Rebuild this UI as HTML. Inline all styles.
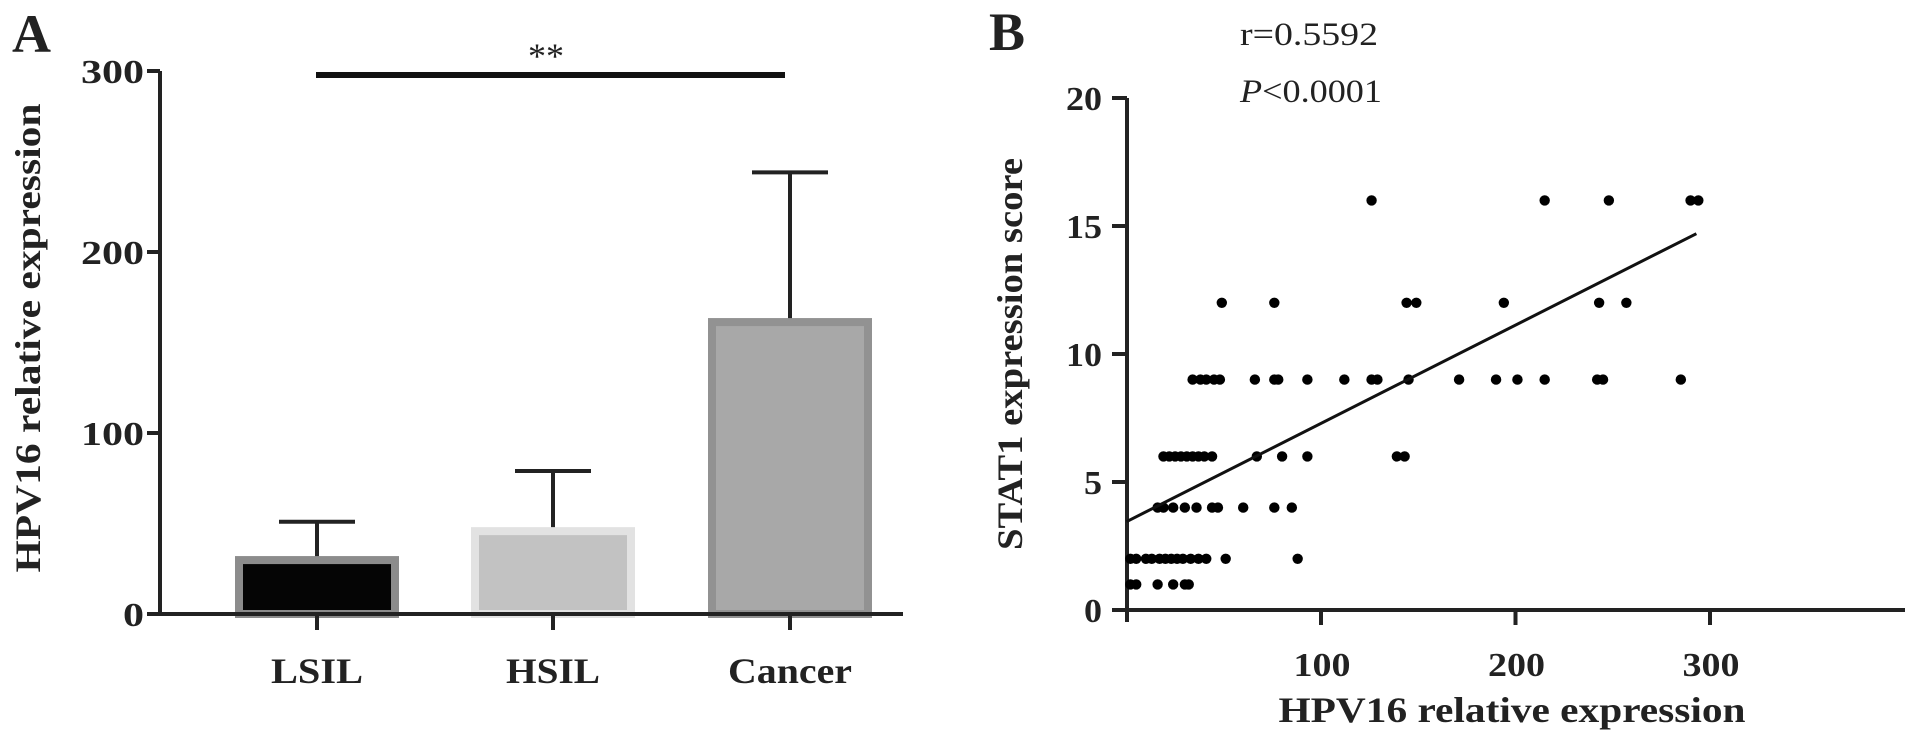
<!DOCTYPE html>
<html><head><meta charset="utf-8"><style>
html,body{margin:0;padding:0;background:#fff;}
svg{display:block;font-family:"Liberation Serif",serif;font-weight:bold;}
</style></head><body>
<svg id="chart" width="1913" height="744" viewBox="0 0 1913 744" xmlns="http://www.w3.org/2000/svg">
<g id="pa"></g>
<g id="pb"></g>
</svg>
<script>
// Panel A data
const barCats = ["LSIL","HSIL","Cancer"];
const barMeans = [32, 48, 163.5];
const barErrTop = [51, 79, 244];
const aTicks = [0,100,200,300];
// Panel B data
const scatX = [2,5,16,24,30,32,
 2,5,10,13,17,20,23,26,29,33,37,41,51,88,
 16,19,24,30,36,44,47,60,76,85,
 19,22,25,28,31,34,37,40,44,67,80,93,139,143,
 34,38,41,45,48,66,76,78,93,112,126,129,145,171,190,201,215,242,245,285,
 49,76,144,149,194,243,257,
 126,215,248,290,294];
const scatY = [1,1,1,1,1,1,
 2,2,2,2,2,2,2,2,2,2,2,2,2,2,
 4,4,4,4,4,4,4,4,4,4,
 6,6,6,6,6,6,6,6,6,6,6,6,6,6,
 9,9,9,9,9,9,9,9,9,9,9,9,9,9,9,9,9,9,9,9,
 12,12,12,12,12,12,12,
 16,16,16,16,16];
const fitX = [0, 293];
const fitY = [3.45, 14.7];
const bXTicks = [100,200,300];
const bYTicks = [0,5,10,15,20];

const NS="http://www.w3.org/2000/svg";
function mk(parent, tag, attrs, text){
  const e=document.createElementNS(NS,tag);
  for(const k in attrs) e.setAttribute(k,attrs[k]);
  if(text!==undefined) e.textContent=text;
  parent.appendChild(e); return e;
}
const pa=document.getElementById('pa'), pb=document.getElementById('pb');

// ---- Panel A ----
const ay = v => 614 - v*1.81;
const acx = [317, 553, 790];
const bw = 164;
const fills=["#050505","#c2c2c2","#a8a8a8"], strokes=["#8c8c8c","#e2e2e2","#929292"];
barCats.forEach((c,i)=>{
  const r=mk(pa,'rect',{x:acx[i]-bw/2+4,y:ay(barMeans[i])+4,width:bw-8,height:614-ay(barMeans[i])-4,fill:fills[i],stroke:strokes[i],'stroke-width':8});
  
  
  const e=mk(pa,'path',{d:`M${acx[i]} ${ay(barMeans[i])} V${ay(barErrTop[i])} M${acx[i]-38} ${ay(barErrTop[i])} H${acx[i]+38}`,stroke:'#222','stroke-width':4,fill:'none'});
  
  
  mk(pa,'line',{x1:acx[i],y1:614,x2:acx[i],y2:630,stroke:'#222','stroke-width':4});
  const lw=[92,94,124][i];
  const t=mk(pa,'text',{x:acx[i],y:683,'text-anchor':'middle','font-size':36,textLength:lw,lengthAdjust:'spacingAndGlyphs',fill:'#222'},c);
  
  
});
const axA=mk(pa,'path',{d:'M160 71 V614 M158 614 H903',stroke:'#222','stroke-width':4,fill:'none'});


aTicks.forEach(v=>{
  mk(pa,'line',{x1:147,y1:ay(v),x2:160,y2:ay(v),stroke:'#222','stroke-width':4});
  const t=mk(pa,'text',{x:144,y:ay(v)+12,'text-anchor':'end','font-size':34,textLength:String(v).length*21,lengthAdjust:'spacingAndGlyphs',fill:'#222'},String(v));
  
  
});
const sig=mk(pa,'line',{x1:316,y1:75,x2:785,y2:75,stroke:'#111','stroke-width':6});


const st=mk(pa,'text',{x:546,y:68,'text-anchor':'middle','font-size':36,'font-weight':'normal',fill:'#222'},'**');


const la=mk(pa,'text',{x:12,y:52,'font-size':54,fill:'#222'},'A');


const yta=mk(pa,'text',{x:0,y:0,transform:'translate(40,338) rotate(-90)','text-anchor':'middle','font-size':36,textLength:469,lengthAdjust:'spacingAndGlyphs',fill:'#222'},'HPV16 relative expression');



// ---- Panel B ----
const bx = v => 1126.5 + v*1.945;
const by = v => 610 - v*25.6;
const axB=mk(pb,'path',{d:'M1127 98 V622 M1113 610 H1905',stroke:'#222','stroke-width':4,fill:'none'});


bYTicks.forEach(v=>{
  mk(pb,'line',{x1:1112,y1:by(v),x2:1127,y2:by(v),stroke:'#222','stroke-width':4});
  const t=mk(pb,'text',{x:1102,y:by(v)+12,'text-anchor':'end','font-size':34,textLength:String(v).length*18,lengthAdjust:'spacingAndGlyphs',fill:'#222'},String(v));
  
  
});
bXTicks.forEach(v=>{
  mk(pb,'line',{x1:bx(v),y1:610,x2:bx(v),y2:625,stroke:'#222','stroke-width':4});
  const t=mk(pb,'text',{x:bx(v)+1,y:676,'text-anchor':'middle','font-size':34,textLength:57,lengthAdjust:'spacingAndGlyphs',fill:'#222'},String(v));
  
  
});
scatX.forEach((x,i)=>{
  const c=mk(pb,'circle',{cx:bx(x),cy:by(scatY[i]),r:5.2,fill:'#000'});
  
  
});
const fl=mk(pb,'line',{x1:bx(fitX[0]),y1:by(fitY[0]),x2:bx(fitX[1]),y2:by(fitY[1]),stroke:'#111','stroke-width':3});


const lb=mk(pb,'text',{x:989,y:50,'font-size':54,fill:'#222'},'B');


const rt=mk(pb,'text',{x:1240,y:45,'font-size':33,'font-weight':'normal',textLength:138,lengthAdjust:'spacingAndGlyphs',fill:'#222'},'r=0.5592');


const pt=mk(pb,'text',{x:1240,y:102,'font-size':33,'font-weight':'normal',textLength:142,lengthAdjust:'spacingAndGlyphs',fill:'#222'});


mk(pt,'tspan',{'font-style':'italic'},'P');
mk(pt,'tspan',{},'<0.0001');
const ytb=mk(pb,'text',{x:0,y:0,transform:'translate(1022,354) rotate(-90)','text-anchor':'middle','font-size':36,textLength:392,lengthAdjust:'spacingAndGlyphs',fill:'#222'},'STAT1 expression score');


const xtb=mk(pb,'text',{x:1512,y:722,'text-anchor':'middle','font-size':36,textLength:467,lengthAdjust:'spacingAndGlyphs',fill:'#222'},'HPV16 relative expression');


</script>
</body></html>
